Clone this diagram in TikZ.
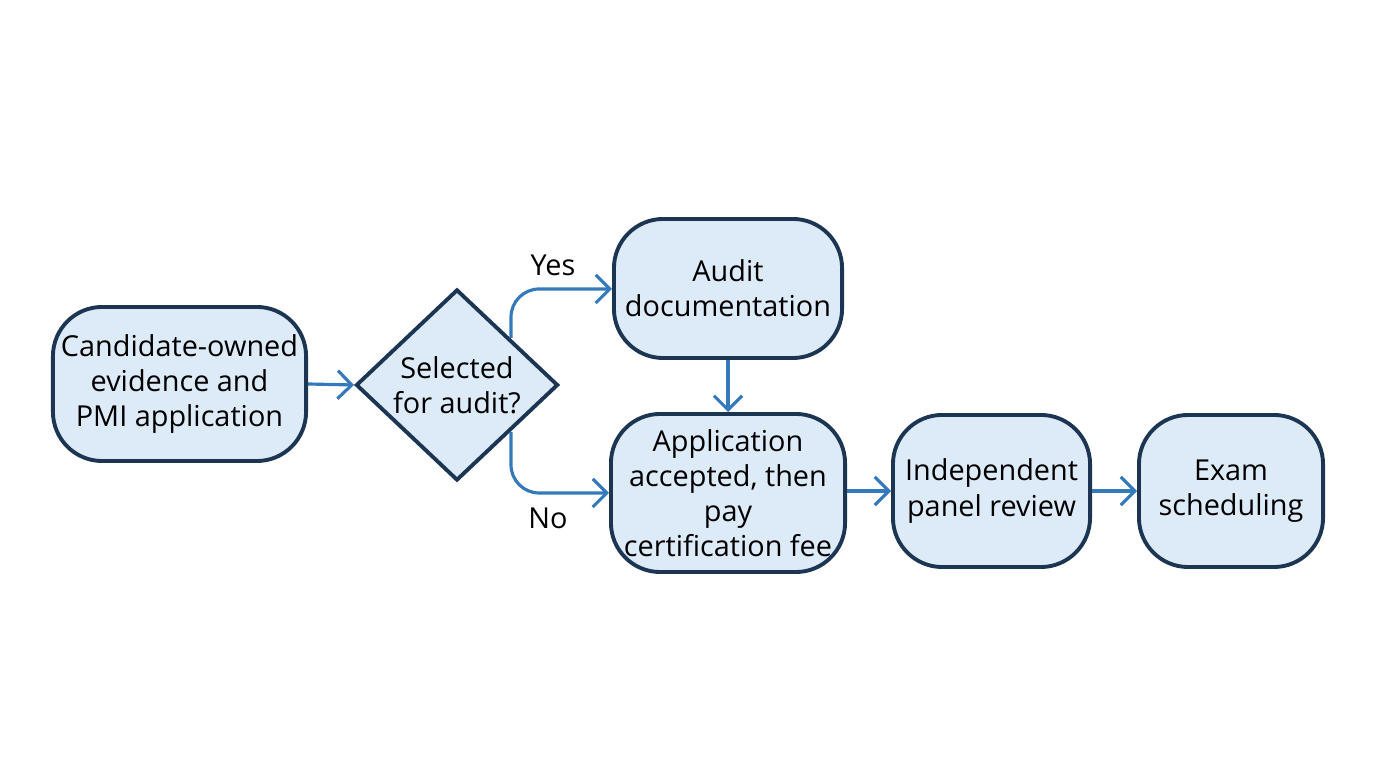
\documentclass[tikz,border=0pt]{standalone}
\usepackage{fontspec}
\setmainfont{Open Sans}
\usetikzlibrary{shapes.geometric,arrows.meta}
\definecolor{boxfill}{HTML}{DDEAF8}
\definecolor{boxline}{HTML}{1C3553}
\definecolor{flow}{HTML}{3579BD}
\begin{document}
\begin{tikzpicture}[x=0.01cm,y=-0.01cm,
  stepbox/.style={draw=boxline,fill=boxfill,line width=1.1pt,rounded corners=14pt,align=center,font=\fontsize{8.2pt}{10pt}\selectfont,inner sep=0pt},
  choice/.style={draw=boxline,fill=boxfill,line width=1.1pt,diamond,aspect=1.06,align=center,font=\fontsize{8.2pt}{10pt}\selectfont,inner sep=0pt,minimum width=5.6cm},
  flowarrow/.style={draw=flow,line width=0.9pt,-{Straight Barb[length=4pt,width=8pt]},rounded corners=8pt}]
\useasboundingbox (0,0) rectangle (1376,768);
% boxes
\node[stepbox,minimum width=2.53cm,minimum height=1.54cm] (cand) at (179.5,384) {Candidate-owned\\evidence and\\PMI application};
\node[choice,minimum width=2.02cm,minimum height=1.91cm] (sel) at (457,385) {Selected\\for audit?};
\node[stepbox,minimum width=2.28cm,minimum height=1.39cm] (audit) at (728,288.5) {Audit\\documentation};
\node[stepbox,minimum width=2.34cm,minimum height=1.58cm] (accept) at (728,493) {Application\\accepted, then\\pay\\certification fee};
\node[stepbox,minimum width=1.97cm,minimum height=1.52cm] (panel) at (991.5,491) {Independent\\panel review};
\node[stepbox,minimum width=1.84cm,minimum height=1.52cm] (exam) at (1231,491) {Exam\\scheduling};
\coordinate (up) at (511,338);
\coordinate (down) at (511,432);
% connectors
\draw[flowarrow] (cand.east) -- (sel.west);
\draw[flowarrow] (up) |- (audit.west |- 0,289);
\draw[flowarrow] (down) |- (accept.west |- 0,493);
\draw[flowarrow] (audit.south) -- (accept.north);
\draw[flowarrow] (accept.east |- 0,491) -- (panel.west);
\draw[flowarrow] (panel.east) -- (exam.west);
\node[font=\fontsize{8.2pt}{10pt}\selectfont] (yes) at (553,265) {Yes};
\node[font=\fontsize{8.2pt}{10pt}\selectfont] (no) at (548,518) {No};
\end{tikzpicture}
\end{document}
